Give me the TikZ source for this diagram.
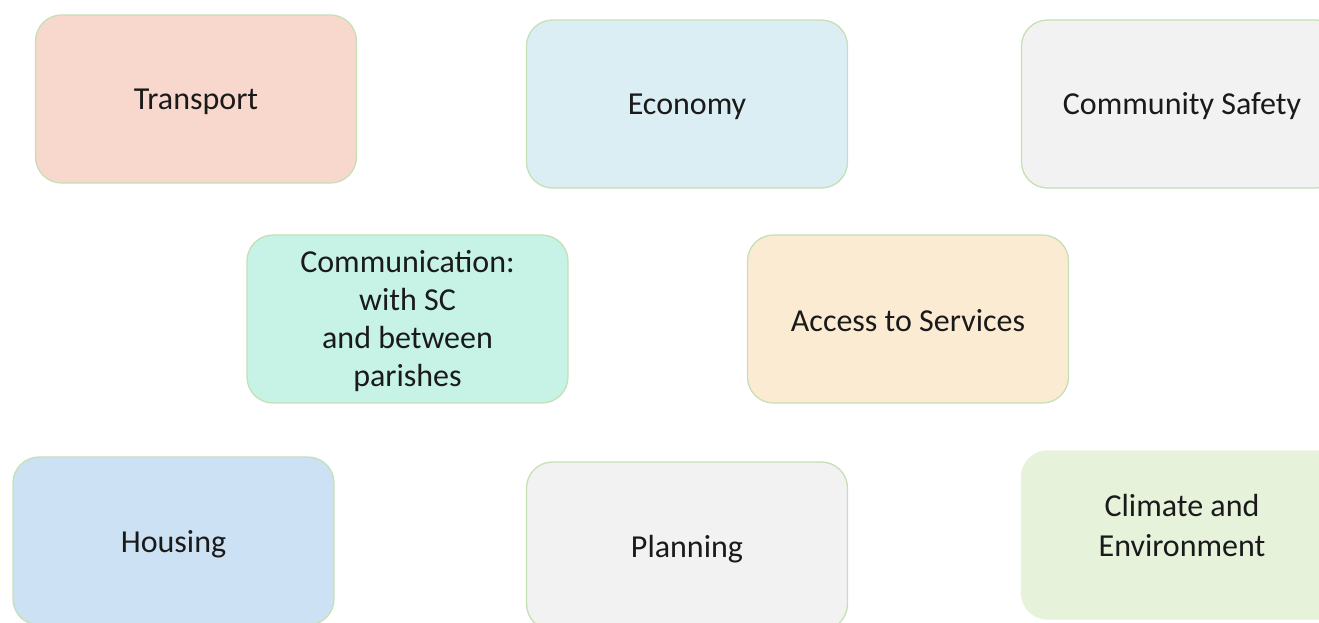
\documentclass[tikz,border=0pt]{standalone}
\usepackage{fontspec}
\setmainfont{Carlito}
\definecolor{bordergreen}{HTML}{C5E0B4}
\definecolor{cTransport}{HTML}{F8D8CC}
\definecolor{cEconomy}{HTML}{DAEEF3}
\definecolor{cGray}{HTML}{F2F2F2}
\definecolor{cComm}{HTML}{C6F3E5}
\definecolor{cAccess}{HTML}{FCEBD3}
\definecolor{cHousing}{HTML}{CCE2F4}
\definecolor{cClimate}{HTML}{E7F2DA}
\definecolor{txt}{HTML}{1A1A1A}
\newcommand{\shifttxt}[2]{\raisebox{#1}[\height][\depth]{#2}}
\begin{document}
\begin{tikzpicture}[x=1pt,y=-1pt,
  topic/.style={draw=bordergreen, line width=1.3pt, rounded corners=26pt,
    minimum width=321pt, minimum height=168pt, inner sep=0pt,
    align=center, text=txt, font=\fontsize{32}{37.7}\selectfont}]
\useasboundingbox (0,0) rectangle (1319,622);
\clip (0,0) rectangle (1319,622);
\node[topic, fill=cTransport] (transport) at (196,99) {\shifttxt{-3pt}{Transport}};
\node[topic, fill=cEconomy] (economy) at (687,104) {\shifttxt{-3pt}{Economy}};
\node[topic, fill=cGray] (safety) at (1182,104) {\shifttxt{-2pt}{Community Safety}};
\node[topic, fill=cComm] (comm) at (407.5,319) {\shifttxt{-2pt}{Communication:}\\\shifttxt{-2pt}{with SC}\\\shifttxt{-2pt}{and between}\\\shifttxt{-2pt}{parishes}};
\node[topic, fill=cAccess] (access) at (908,319) {\shifttxt{-2pt}{Access to Services}};
\node[topic, fill=cHousing] (housing) at (173.5,541) {\shifttxt{-3pt}{Housing}};
\node[topic, fill=cGray] (planning) at (687,546) {\shifttxt{-3pt}{Planning}};
\node[topic, fill=cClimate, draw=cClimate, font=\fontsize{32}{40}\selectfont] (climate) at (1182,535) {\shifttxt{10pt}{Climate and}\\\shifttxt{10pt}{Environment}};
\end{tikzpicture}
\end{document}
